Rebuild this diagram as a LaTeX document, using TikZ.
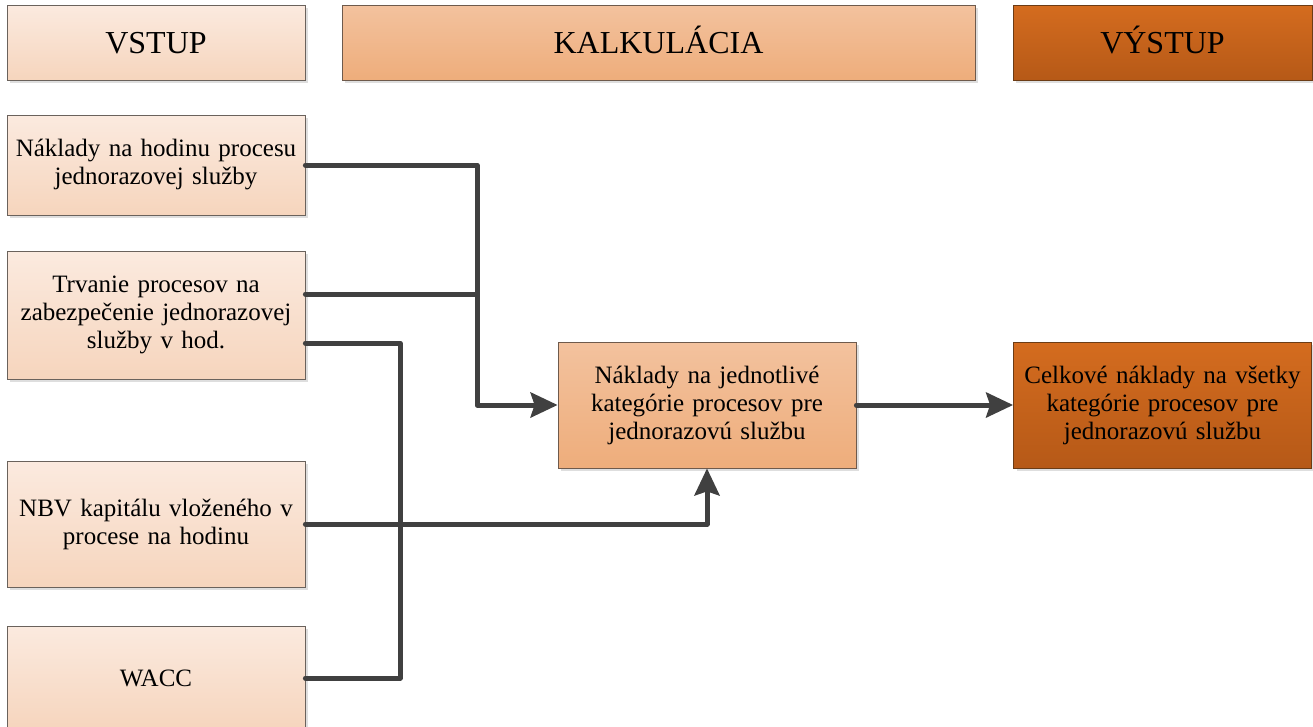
\documentclass[tikz,border=0pt]{standalone}
\usepackage{fontspec}
\setmainfont{Liberation Serif}
\usetikzlibrary{arrows.meta,shadows,calc}
\definecolor{inTop}{HTML}{FBEADF}
\definecolor{inBot}{HTML}{F6D5BD}
\definecolor{inLine}{HTML}{6A625C}
\definecolor{kTop}{HTML}{F3C29E}
\definecolor{kBot}{HTML}{EEAD7B}
\definecolor{kLine}{HTML}{6E5A4C}
\definecolor{oTop}{HTML}{D46C1F}
\definecolor{oBot}{HTML}{B65917}
\definecolor{oLine}{HTML}{6B3C16}
\definecolor{conn}{HTML}{404040}
\begin{document}
\begin{tikzpicture}[x=1pt,y=-1pt,
  base/.style={draw=#1, line width=0.8pt, inner sep=0pt, align=center,
    drop shadow={shadow xshift=3pt,shadow yshift=-3pt,fill=black!13,opacity=1}},
  inbox/.style={base=inLine, top color=inTop, bottom color=inBot},
  kbox/.style={base=kLine, top color=kTop, bottom color=kBot},
  obox/.style={base=oLine, top color=oTop, bottom color=oBot},
  head/.style={font=\fontsize{32}{38}\selectfont, minimum height=75pt, text height=22pt, text depth=0pt},
  body/.style={font=\fontsize{25}{28}\selectfont, text width=296pt, minimum width=298pt},
  conline/.style={draw=conn, line width=5pt, line cap=round, line join=round},
  arr/.style={conline, -{Stealth[length=27pt,width=25pt,inset=4pt]}}
]
\useasboundingbox (0,0) rectangle (1313,726);
% headers
\node[inbox, head, minimum width=298pt] (hin) at (156,42.5) {VSTUP};
\node[kbox, head, minimum width=633pt] (hk) at (658.5,42.5) {KALKULÁCIA};
\node[obox, head, minimum width=299pt] (hout) at (1162.5,42.5) {VÝSTUP};
% inputs
\node[inbox, body, minimum height=100pt] (in1) at (156,165) {Náklady na hodinu procesu\\jednorazovej služby};
\node[inbox, body, minimum height=128pt] (in2) at (156,315) {Trvanie procesov na\\zabezpečenie jednorazovej\\služby v hod.};
\node[inbox, body, minimum height=126pt] (in3) at (156,524) {NBV kapitálu vloženého v\\procese na hodinu};
\node[inbox, body, minimum height=104pt] (wacc) at (156,678) {WACC};
% middle and output
\node[kbox, body, minimum height=126pt] (mid) at (707,405) {Náklady na jednotlivé\\kategórie procesov pre\\jednorazovú službu};
\node[obox, body, minimum height=126pt] (out) at (1162.5,405) {Celkové náklady na všetky\\kategórie procesov pre\\jednorazovú službu};
% connectors
\coordinate (jx) at (477,0);
\coordinate (wx) at (400,0);
\draw[arr] (in1.east) -- (in1.east -| jx) |- (mid.west);
\draw[conline] ([yshift=21pt]in2.east) -- ([yshift=21pt]in2.east -| jx);
\draw[conline] ([yshift=-28pt]in2.east) -- ([yshift=-28pt]in2.east -| wx) |- (wacc.east);
\draw[arr] (in3.east) -| (mid.south);
\draw[arr] (mid.east) -- (out.west);
\end{tikzpicture}
\end{document}
